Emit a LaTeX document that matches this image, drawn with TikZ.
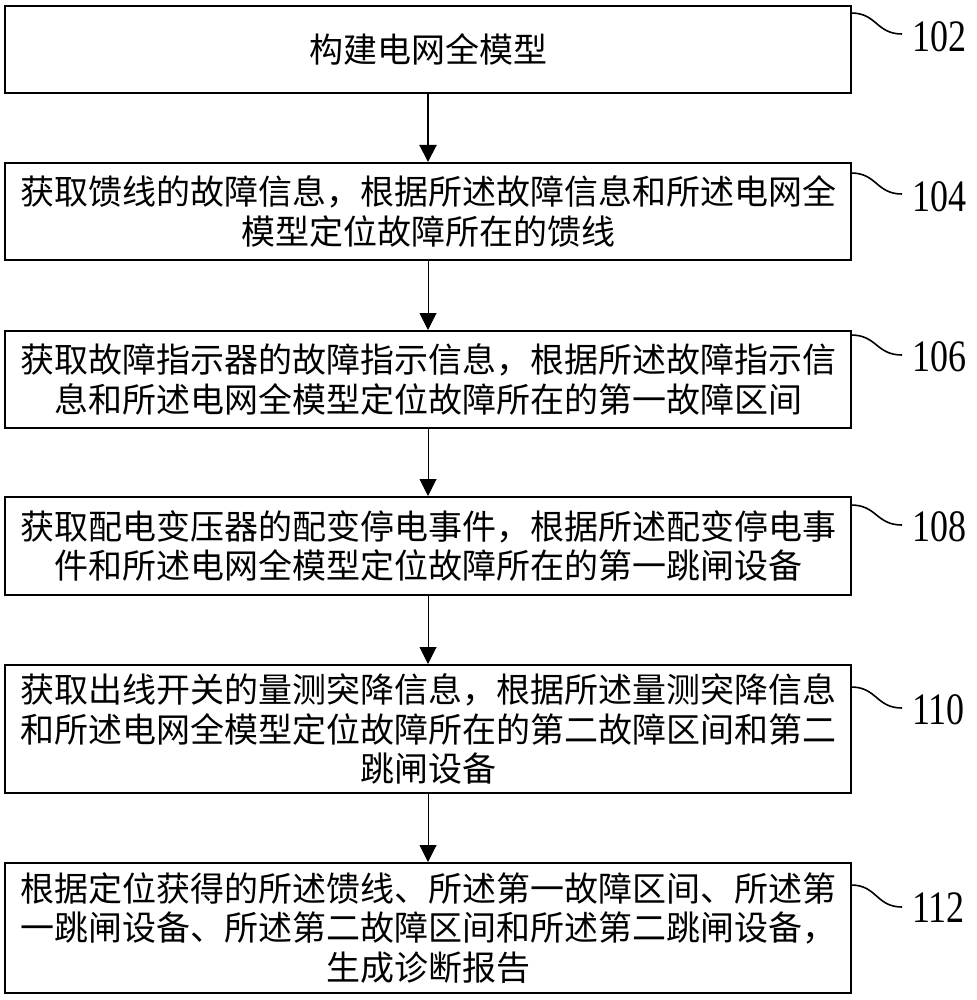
\documentclass[tikz,border=0pt]{standalone}
\usepackage{fontspec}
\setmainfont{Liberation Serif}
\newfontfamily\cjk{Noto Sans CJK SC}
\usetikzlibrary{arrows.meta}
\begin{document}
\begin{tikzpicture}[x=1pt,y=1pt,
  box/.style={draw=black, line width=2pt, minimum width=846pt, text width=830pt, align=center, inner sep=0pt, font=\cjk\fontsize{34}{39.5}\selectfont},
  flow/.style={-{Triangle[length=17pt,width=17pt]}, line width=1pt},
  lead/.style={line width=1.6pt},
  num/.style={anchor=west, inner sep=0pt, yscale=1.25, font=\fontsize{36}{36}\selectfont}]
\useasboundingbox (0,0) rectangle (976,-1000);
\fill[white] (0,0) rectangle (976,-1000);

\node[box, minimum height=87pt] (b1) at (428,-49.5) {构建电网全模型};
\node[box, minimum height=97pt] (b2) at (428,-211.5) {获取馈线的故障信息，根据所述故障信息和所述电网全\\模型定位故障所在的馈线};
\node[box, minimum height=97pt] (b3) at (428,-379.5) {获取故障指示器的故障指示信息，根据所述故障指示信\\息和所述电网全模型定位故障所在的第一故障区间};
\node[box, minimum height=98pt] (b4) at (428,-546) {获取配电变压器的配变停电事件，根据所述配变停电事\\件和所述电网全模型定位故障所在的第一跳闸设备};
\node[box, minimum height=128pt] (b5) at (428,-729) {获取出线开关的量测突降信息，根据所述量测突降信息\\和所述电网全模型定位故障所在的第二故障区间和第二\\跳闸设备};
\node[box, minimum height=130pt] (b6) at (428,-928) {根据定位获得的所述馈线、所述第一故障区间、所述第\\一跳闸设备、所述第二故障区间和所述第二跳闸设备，\\生成诊断报告};

\draw[flow, line width=2pt] (b1) -- (b2);
\draw[flow] (b2) -- (b3);
\draw[flow] (b3) -- (b4);
\draw[flow] (b4) -- (b5);
\draw[flow] (b5) -- (b6);

% leader curves and labels
\coordinate (s1) at (851,-13);  \coordinate (e1) at (902,-34);
\coordinate (s2) at (851,-173); \coordinate (e2) at (902,-194);
\coordinate (s3) at (851,-335); \coordinate (e3) at (902,-355);
\coordinate (s4) at (851,-505); \coordinate (e4) at (902,-525);
\coordinate (s5) at (851,-687); \coordinate (e5) at (902,-708);
\coordinate (s6) at (851,-885); \coordinate (e6) at (902,-907);
\foreach \i in {1,...,6}{
  \draw[lead] (s\i) .. controls +(26,0) and +(-26,0) .. (e\i);
}
\node[num] (n1) at (912,-37) {102};
\node[num] (n2) at (912,-197) {104};
\node[num] (n3) at (912,-357) {106};
\node[num] (n4) at (912,-527) {108};
\node[num] (n5) at (912,-710) {110};
\node[num] (n6) at (912,-908) {112};
\end{tikzpicture}
\end{document}
